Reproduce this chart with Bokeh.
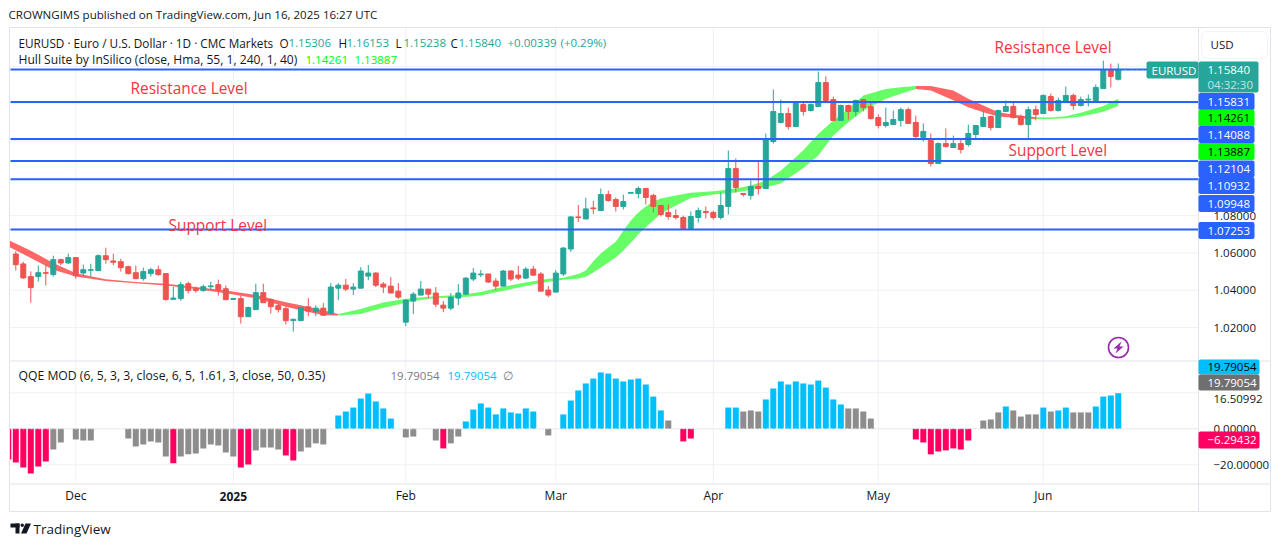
from bokeh.plotting import figure
from bokeh.models import (ColumnDataSource, Label, FixedTicker, BoxAnnotation, LinearAxis,
                          CustomJSTickFormatter, Range1d, PolyAnnotation)
from bokeh.embed import file_html
from bokeh.resources import INLINE

FONT = "Open Sans"
INK = "#131722"
UP = "#26a69a"
DOWN = "#ef5350"
CHROME = "#e0e3eb"
GRID = "#f0f1f3"

opens = [1.0594,1.0541,1.0473,1.0473,1.0494,1.0484,1.0564,1.0546,1.0575,1.0492,
1.0507,1.0505,1.0585,1.0557,1.0553,1.0526,1.0494,1.0462,1.0489,1.0510,
1.0489,1.0351,1.0355,1.0435,1.0408,1.0398,1.0419,1.0430,1.0408,1.0351,
1.0355,1.0258,1.0296,1.0387,1.0350,1.0317,1.0301,1.0237,1.0237,1.0311,
1.0286,1.0304,1.0277,1.0411,1.0427,1.0406,1.0411,1.0476,1.0492,1.0433,
1.0422,1.0395,1.0229,1.0342,1.0374,1.0406,1.0385,1.0320,1.0304,1.0358,
1.0379,1.0460,1.0483,1.0487,1.0449,1.0422,1.0503,1.0481,1.0465,1.0513,
1.0487,1.0401,1.0390,1.0487,1.0621,1.0793,1.0782,1.0841,1.0827,1.0913,
1.0886,1.0849,1.0920,1.0918,1.0945,1.0908,1.0854,1.0816,1.0800,1.0790,
1.0731,1.0790,1.0822,1.0816,1.0790,1.0849,1.1052,1.0918,1.0908,1.0956,
1.0945,1.1197,1.1299,1.1347,1.1277,1.1395,1.1363,1.1385,1.1513,1.1422,
1.1310,1.1390,1.1358,1.1422,1.1385,1.1326,1.1283,1.1288,1.1310,1.1368,
1.1299,1.1219,1.1203,1.1079,1.1186,1.1165,1.1186,1.1181,1.1235,1.1278,
1.1331,1.1272,1.1358,1.1385,1.1331,1.1288,1.1368,1.1347,1.1438,1.1363,
1.1406,1.1444,1.1390,1.1420,1.1417,1.1481,1.1583,1.15306]
highs = [1.0609,1.0553,1.0501,1.0532,1.0537,1.0585,1.0569,1.0596,1.0575,1.0537,
1.0542,1.0591,1.0628,1.0596,1.0569,1.0532,1.0532,1.0521,1.0521,1.0532,
1.0489,1.0419,1.0446,1.0446,1.0419,1.0430,1.0446,1.0457,1.0425,1.0355,
1.0371,1.0312,1.0435,1.0435,1.0355,1.0328,1.0312,1.0248,1.0312,1.0358,
1.0320,1.0331,1.0438,1.0438,1.0460,1.0438,1.0524,1.0535,1.0497,1.0444,
1.0470,1.0438,1.0352,1.0390,1.0449,1.0406,1.0417,1.0342,1.0385,1.0433,
1.0470,1.0519,1.0508,1.0487,1.0465,1.0508,1.0508,1.0530,1.0524,1.0530,
1.0497,1.0422,1.0508,1.0631,1.0798,1.0857,1.0895,1.0879,1.0945,1.0934,
1.0897,1.0913,1.0924,1.0956,1.0945,1.0918,1.0859,1.0859,1.0833,1.0800,
1.0822,1.0843,1.0849,1.0827,1.0924,1.1149,1.1106,1.0918,1.0988,1.1095,
1.1240,1.1476,1.1422,1.1379,1.1411,1.1406,1.1401,1.1572,1.1546,1.1438,
1.1395,1.1395,1.1422,1.1422,1.1406,1.1342,1.1379,1.1363,1.1379,1.1379,
1.1336,1.1294,1.1240,1.1192,1.1267,1.1229,1.1208,1.1288,1.1283,1.1363,
1.1336,1.1368,1.1417,1.1406,1.1342,1.1385,1.1390,1.1449,1.1454,1.1433,
1.1492,1.1454,1.1438,1.1449,1.1503,1.1631,1.1615,1.16153]
lows = [1.0505,1.0462,1.0333,1.0446,1.0425,1.0473,1.0534,1.0542,1.0462,1.0478,
1.0473,1.0505,1.0542,1.0534,1.0500,1.0484,1.0462,1.0451,1.0473,1.0478,
1.0344,1.0350,1.0344,1.0382,1.0387,1.0392,1.0405,1.0371,1.0344,1.0350,
1.0221,1.0258,1.0296,1.0333,1.0275,1.0280,1.0216,1.0178,1.0237,1.0261,
1.0261,1.0266,1.0266,1.0347,1.0395,1.0374,1.0411,1.0454,1.0417,1.0385,
1.0385,1.0352,1.0207,1.0272,1.0374,1.0358,1.0309,1.0282,1.0293,1.0320,
1.0374,1.0449,1.0470,1.0438,1.0401,1.0422,1.0449,1.0454,1.0460,1.0476,
1.0395,1.0363,1.0390,1.0476,1.0605,1.0766,1.0782,1.0809,1.0827,1.0875,
1.0822,1.0833,1.0920,1.0892,1.0859,1.0816,1.0795,1.0779,1.0779,1.0731,
1.0731,1.0763,1.0784,1.0779,1.0779,1.0806,1.0924,1.0902,1.0886,1.0913,
1.0945,1.1186,1.1294,1.1261,1.1277,1.1336,1.1358,1.1385,1.1417,1.1310,
1.1310,1.1315,1.1331,1.1358,1.1315,1.1267,1.1272,1.1288,1.1278,1.1294,
1.1213,1.1197,1.1063,1.1079,1.1165,1.1165,1.1133,1.1170,1.1213,1.1278,
1.1256,1.1272,1.1358,1.1320,1.1283,1.1213,1.1310,1.1347,1.1358,1.1358,
1.1406,1.1368,1.1385,1.1385,1.1406,1.1481,1.1487,1.15238]
closes = [1.0537,1.0466,1.0414,1.0494,1.0491,1.0564,1.0546,1.0575,1.0478,1.0510,
1.0510,1.0585,1.0564,1.0550,1.0521,1.0489,1.0462,1.0500,1.0510,1.0484,
1.0350,1.0358,1.0430,1.0398,1.0398,1.0419,1.0423,1.0403,1.0350,1.0355,
1.0258,1.0307,1.0387,1.0333,1.0312,1.0296,1.0237,1.0244,1.0307,1.0288,
1.0304,1.0266,1.0417,1.0427,1.0406,1.0417,1.0503,1.0492,1.0427,1.0417,
1.0385,1.0363,1.0347,1.0379,1.0406,1.0379,1.0325,1.0304,1.0363,1.0385,
1.0465,1.0492,1.0487,1.0444,1.0422,1.0503,1.0460,1.0465,1.0513,1.0481,
1.0395,1.0374,1.0492,1.0626,1.0793,1.0789,1.0836,1.0837,1.0913,1.0881,
1.0849,1.0875,1.0924,1.0945,1.0897,1.0849,1.0806,1.0795,1.0790,1.0731,
1.0795,1.0827,1.0816,1.0790,1.0854,1.1052,1.0950,1.0913,1.0956,1.0945,
1.1206,1.1358,1.1347,1.1277,1.1401,1.1358,1.1395,1.1513,1.1417,1.1310,
1.1390,1.1358,1.1417,1.1379,1.1320,1.1283,1.1299,1.1315,1.1368,1.1294,
1.1224,1.1251,1.1079,1.1186,1.1170,1.1186,1.1154,1.1240,1.1283,1.1326,
1.1272,1.1363,1.1385,1.1326,1.1288,1.1368,1.1342,1.1444,1.1363,1.1417,
1.1444,1.1390,1.1422,1.1424,1.1487,1.1583,1.1546,1.15840]

hull_x = [-1,2,5,8,12,16,20,24,28,32,36,38,41,43,46,47,49,51,53,56,59,62,65,68,71,73,75,76,77,78,79,80,81,82,83,84,85,86,88,90,93,96,98,100,102,105,107,109,111,113,116,118,120,122,125,127,129,131,134,136,138,140,142,145,147]
hull_upper = [1.0669,1.0612,1.0546,1.0491,1.0459,1.0444,1.0435,1.0417,1.0398,1.0375,1.0335,1.0320,1.0293,1.0273,1.0299,1.0311,1.0334,1.0347,1.0358,1.0368,1.0374,1.0390,1.0419,1.0442,1.0461,1.0467,1.0487,1.0506,1.0555,1.0597,1.0629,1.0660,1.0719,1.0774,1.0817,1.0849,1.0876,1.0892,1.0908,1.0922,1.0931,1.0945,1.0961,1.0988,1.1040,1.1150,1.1238,1.1310,1.1372,1.1444,1.1479,1.1488,1.1494,1.1494,1.1470,1.1426,1.1390,1.1354,1.1336,1.1327,1.1326,1.1333,1.1351,1.1388,1.14261]
hull_lower = [1.0634,1.0573,1.0510,1.0473,1.0450,1.0437,1.0425,1.0407,1.0384,1.0357,1.0312,1.0293,1.0266,1.0265,1.0272,1.0284,1.0306,1.0324,1.0342,1.0358,1.0361,1.0372,1.0397,1.0422,1.0445,1.0456,1.0463,1.0472,1.0495,1.0522,1.0548,1.0575,1.0613,1.0655,1.0700,1.0738,1.0774,1.0811,1.0854,1.0895,1.0913,1.0924,1.0938,1.0952,1.0972,1.1055,1.1122,1.1229,1.1301,1.1363,1.1426,1.1453,1.1479,1.1471,1.1418,1.1381,1.1354,1.1331,1.1322,1.1318,1.1318,1.1322,1.1331,1.1356,1.13887]
hull_turns = [43, 120, 136]

level_prices = [1.15831, 1.14088, 1.12104, 1.10932, 1.09948, 1.07253]
price_ticks = [1.02, 1.04, 1.06, 1.08]
price_grid = [1.02, 1.04, 1.06, 1.08, 1.10, 1.12, 1.14, 1.16]

qqe_values = [-17,-18.7,-21.5,-24.8,-20.9,-18.1,-11.5,-7.6,None,-5.9,-6.5,-6.5,None,None,None,None,
-5.4,-9.8,-8.7,-7.0,-7.6,-15.4,-19.2,-15.4,-14.2,-13.7,-10.9,-8.7,-9.3,-13.1,-15.4,-21.5,-19.8,
-12.0,-10.4,-10.4,-11.5,-14.8,-17.6,-12.6,-10.4,-8.1,-8.7,None,7.4,9.6,11.8,16.8,19.6,15.2,11.3,5.7,
None,-4.8,-4.3,None,None,-6.5,-10.9,-8.1,-4.3,4.1,10.7,14.1,11.8,8.0,11.3,9.1,8.5,11.3,9.6,None,-3.7,None,
8.0,15.7,21.3,25.2,27.9,31.3,30.7,27.9,26.3,27.4,27.9,24.6,17.9,10.2,4.6,None,-7.0,-5.4,None,None,None,None,
11.8,11.8,9.6,10.2,9.6,16.3,22.4,26.3,24.6,26.3,25.2,24.6,26.8,22.9,16.3,13.5,11.3,11.3,9.6,5.7,
None,None,None,None,None,-5.9,-7.6,-14.2,-12.6,-12.0,-10.9,-11.5,-6.5,None,
4.6,5.2,9.1,12.4,10.2,6.8,8.0,8.0,11.8,9.6,10.2,11.8,9.1,9.1,9.1,12.4,17.9,18.5,19.79]
qqe_pink_bars = [-1,0,1,2,3,4,21,30,31,36,37,57,89,90,120,121,122,123,124,125,126,127]
qqe_gray_bars = [87,97,98,99,111,112,113,114,129,130,131,133,134,135,136,138,141,142,143]
qqe_ticks = [-20, 0, 16.50992]
qqe_grid = [-20, 0, 20]

month_bars = [8, 29, 52, 72, 93, 115, 137]
month_names = ["Dec", "", "Feb", "Mar", "Apr", "May", "Jun"]

title_text = "CROWNGIMS published on TradingView.com, Jun 16, 2025 16:27 UTC"

W, H = 1273, 538
PX_BAR = 7.5
def bar_at(px):
    return (px - 15.3) / PX_BAR
def price_at(py):
    return 1.15831 + (69 - py) * 0.000536
def qqe_at(py):
    return (428.3 - py) / 1.8

p = figure(width=W, height=H, x_range=Range1d(bar_at(0), bar_at(W)),
           y_range=Range1d(price_at(H), price_at(0)),
           output_backend="svg", toolbar_location=None, x_axis_location=None, y_axis_location=None,
           min_border=0, outline_line_color=None, background_fill_color="white", border_fill_color="white")
p.extra_y_ranges = {"qqe": Range1d(qqe_at(H), qqe_at(0))}
p.grid.grid_line_color = None

def text(x, y, s, color=INK, size="12px", style="normal", font=FONT):
    lab = Label(x=x, y=H - y, x_units="screen", y_units="screen", text=s, text_color=color,
                text_font_size=size, text_font=font, text_font_style=style, text_align="left",
                text_baseline="middle")
    p.add_layout(lab)
    return lab

def rect(x0, y0, x1, y1, fill=None, line=None, radius=0):
    box = BoxAnnotation(left=x0, right=x1, top=y0, bottom=y1,
                        left_units="canvas", right_units="canvas", top_units="canvas", bottom_units="canvas",
                        fill_color=fill, fill_alpha=1 if fill else 0, line_color=line, line_width=1,
                        line_alpha=1 if line else 0, border_radius=radius)
    p.add_layout(box)

left_edge, right_edge = bar_at(10), bar_at(1198)

# grids drawn on the panes only
p.segment(x0=[left_edge] * len(price_grid), x1=[right_edge] * len(price_grid), y0=price_grid, y1=price_grid,
          line_color=GRID, line_width=1)
p.segment(x0=month_bars, x1=month_bars, y0=[price_at(28)] * 7, y1=[price_at(360)] * 7, line_color=GRID, line_width=1)
p.segment(x0=[left_edge] * len(qqe_grid), x1=[right_edge] * len(qqe_grid), y0=qqe_grid, y1=qqe_grid,
          line_color=GRID, line_width=1, y_range_name="qqe")
p.segment(x0=month_bars, x1=month_bars, y0=[qqe_at(360)] * 7, y1=[qqe_at(483)] * 7, line_color=GRID, line_width=1,
          y_range_name="qqe")

# hull band
edges = [hull_x[0]] + hull_turns + [hull_x[-1]]
hull_colors = ["#ff0000", "#00ff00", "#ff0000", "#00ff00"]
for k, col in enumerate(hull_colors):
    idx = [j for j, v in enumerate(hull_x) if edges[k] <= v <= edges[k + 1]]
    p.varea(x=[hull_x[j] for j in idx], y1=[hull_upper[j] for j in idx], y2=[hull_lower[j] for j in idx],
            fill_color=col, fill_alpha=0.6)

# candles
xs = list(range(len(closes)))
candle_color = [UP if c >= o else DOWN for o, c in zip(opens, closes)]
src = ColumnDataSource(dict(x=xs, o=opens, h=highs, l=lows, c=closes, col=candle_color,
                            top=[max(a, b) for a, b in zip(opens, closes)],
                            bot=[min(a, b) for a, b in zip(opens, closes)]))
p.segment("x", "h", "x", "l", source=src, color="col", line_width=1)
p.vbar(x="x", width=0.66, top="top", bottom="bot", source=src, fill_color="col", line_color="col", line_width=1)

# levels
n = len(level_prices)
p.segment(x0=[left_edge] * n, x1=[right_edge] * n, y0=level_prices, y1=level_prices, line_color="#2962ff", line_width=2)
p.segment(x0=[xs[-1]], x1=[right_edge], y0=[closes[-1]], y1=[closes[-1]], line_color=UP, line_width=1, line_dash="dotted")

# QQE
qqe_x = list(range(-1, len(qqe_values) - 1))
qqe_clean = [float("nan") if v is None else v for v in qqe_values]
def qqe_col(i, v):
    if v is None:
        return "#ffffff"
    if v < 0:
        return "#ff0061" if i in qqe_pink_bars else "#8d8d8d"
    return "#8d8d8d" if i in qqe_gray_bars else "#00bfff"
qsrc = ColumnDataSource(dict(x=qqe_x, v=qqe_clean, col=[qqe_col(i, v) for i, v in zip(qqe_x, qqe_values)]))
p.vbar(x="x", width=0.8, top="v", bottom=0, source=qsrc, fill_color="col", line_color=None, y_range_name="qqe")
p.segment(x0=[left_edge], x1=[right_edge], y0=[0], y1=[0], line_color="#e4e6ec", line_width=1, line_dash="2 2",
          y_range_name="qqe")

# axes
fmt = CustomJSTickFormatter(code="return tick.toFixed(5).replace('-', '\u2212')")
def style_y(ax):
    ax.formatter = fmt
    ax.major_tick_line_color = None
    ax.minor_tick_line_color = None
    ax.axis_line_color = None
    ax.major_label_text_color = INK
    ax.major_label_text_font = FONT
    ax.major_label_text_font_size = "11.5px"
    ax.major_label_standoff = 0
ay1 = LinearAxis(ticker=FixedTicker(ticks=price_ticks), fixed_location=bar_at(1207))
style_y(ay1)
p.add_layout(ay1, "right")
ay2 = LinearAxis(ticker=FixedTicker(ticks=qqe_ticks), y_range_name="qqe", fixed_location=bar_at(1207))
style_y(ay2)
p.add_layout(ay2, "right")

xa = LinearAxis(ticker=FixedTicker(ticks=month_bars), fixed_location=price_at(477))
xa.major_label_overrides = {b: s for b, s in zip(month_bars, month_names)}
xa.major_tick_line_color = None
xa.minor_tick_line_color = None
xa.axis_line_color = None
xa.major_label_text_color = INK
xa.major_label_text_font = FONT
xa.major_label_text_font_size = "12px"
xa.major_label_standoff = 3
p.add_layout(xa, "below")

# ring of the lightning marker
p.scatter(x=[bar_at(1118)], y=[price_at(347)], size=20, fill_color="white", line_color="#9c27b0", line_width=1.6)

# chrome
rect(0, 0, 9, H, fill="white")
rect(9, 27, 1270, 511, line=CHROME)
rect(10, 360, 1270, 361, fill=CHROME)
rect(10, 483, 1270, 484, fill=CHROME)
rect(1197.5, 27, 1198.5, 511, fill=CHROME)
rect(1201, 31, 1267, 58, fill="white", line="#f0f3fa", radius=6)

# header
text(8, 14, title_text, size="11.55px")
text(18, 42, "EURUSD \u00b7 Euro / U.S. Dollar \u00b7 1D \u00b7 CMC Markets", size="11.75px")
for x, s in zip((279, 338, 395, 450), "OHLC"):
    text(x, 42, s, size="11.75px")
for x, s in zip((288, 346, 403, 458, 507, 560), ("1.15306", "1.16153", "1.15238", "1.15840", "+0.00339", "(+0.29%)")):
    text(x, 42, s, color=UP, size="11.5px")
text(18, 59, "Hull Suite by InSilico (close, Hma, 55, 1, 240, 1, 40)", size="12.1px")
text(305, 59, "1.14261", color="#00ff00", size="11.5px")
text(354, 59, "1.13887", color="#00ff00", size="11.5px")

for x, y, s in ((130, 88, "Resistance Level"), (168, 225, "Support Level"),
                (994, 47, "Resistance Level"), (1008, 150, "Support Level")):
    text(x, y, s, color="#f23645", size="15.4px")

p.add_layout(PolyAnnotation(xs=[1121, 1113, 1117, 1115, 1123, 1119], ys=[H - 341, H - 348, H - 348, H - 353, H - 346, H - 346],
                            xs_units="screen", ys_units="screen", fill_color="#9c27b0", fill_alpha=1, line_color=None))

text(1210, 44, "USD", size="11.5px")

# price tags
rect(1146, 61, 1198, 78, fill=UP, radius=2)
text(1151, 69.5, "EURUSD", color="white", size="11.5px")
rect(1198, 61, 1258, 92, fill=UP, radius=2)
text(1207, 69.5, "1.15840", color="white", size="11.5px")
text(1207, 84, "04:32:30", color="#bfe6e2", size="11.5px")

tag_rows = [(101, "1.15831", "#2962ff", "white"), (117.5, "1.14261", "#00ff00", "black"),
            (134, "1.14088", "#2962ff", "white"), (151, "1.13887", "#00ff00", "black"),
            (168.5, "1.12104", "#2962ff", "white"), (185, "1.10932", "#2962ff", "white"),
            (203, "1.09948", "#2962ff", "white"), (230, "1.07253", "#2962ff", "white")]
for y, s, bg, fg in tag_rows:
    rect(1198, y - 8.5, 1254, y + 8.5, fill=bg, radius=2)
    text(1207, y, s, color=fg, size="11.5px")

# QQE header and tags
text(18, 375, "QQE MOD (6, 5, 3, 3, close, 6, 5, 1.61, 3, close, 50, 0.35)", size="12.2px")
text(390, 375, "19.79054", color="#787b86", size="11.5px")
text(447, 375, "19.79054", color="#00bfff", size="11.5px")
text(502, 375, "\u2205", color="#787b86", size="11.5px")

rect(1198, 359, 1259, 374, fill="#00bfff", radius=2)
text(1207, 366, "19.79054", color="black", size="11.5px")
rect(1198, 374, 1259, 390, fill="#6f6f6f", radius=2)
text(1207, 382, "19.79054", color="white", size="11.5px")
rect(1198, 431, 1259, 448, fill="#ff0061", radius=2)
text(1207, 439.5, "\u22126.29432", color="white", size="11.5px")

# bold year on the time axis
p.add_layout(Label(x=month_bars[1], y=H - 496, x_units="data", y_units="screen", text="2025", text_color=INK,
                   text_font=FONT, text_font_size="12px", text_font_style="bold",
                   text_align="center", text_baseline="middle"))

# footer
text(33, 528, "TradingView", color=INK, size="13.5px")
rect(10, 523, 19, 527, fill=INK)
rect(15, 523, 19, 533, fill=INK)
rect(20, 523, 23.5, 526.5, fill=INK, radius=2)
p.add_layout(PolyAnnotation(xs=[25, 30.5, 26, 20.5], ys=[H - 523, H - 523, H - 533, H - 533],
                            xs_units="screen", ys_units="screen", fill_color=INK, fill_alpha=1, line_color=None))

open("out.html", "w").write(file_html(p, INLINE))
